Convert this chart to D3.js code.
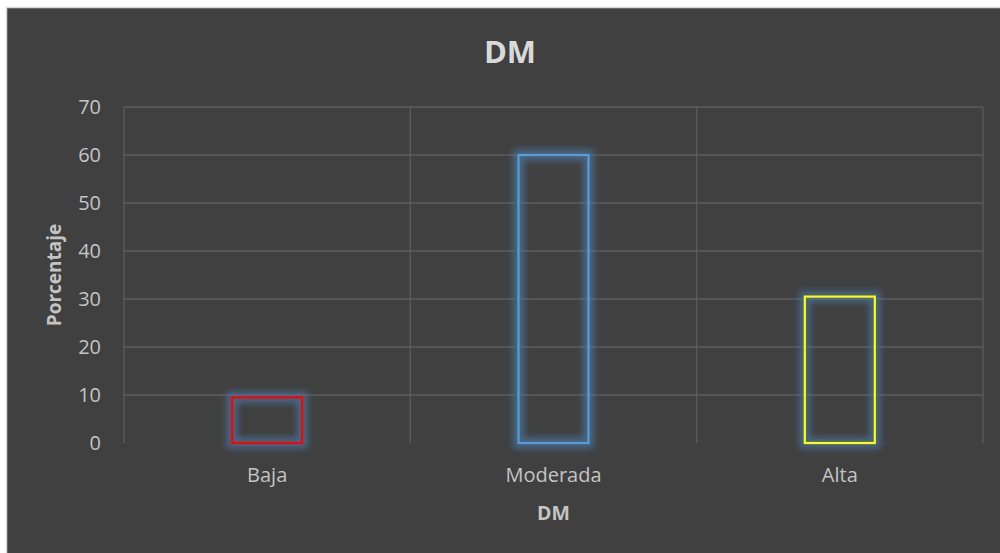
<!DOCTYPE html>
<html>
<head>
<meta charset="utf-8">
<script src="https://cdn.jsdelivr.net/npm/d3@7"></script>
<style>
  html, body { margin: 0; padding: 0; background: #ffffff; }
  svg { display: block; font-family: "Open Sans", "Noto Sans", sans-serif; }
</style>
</head>
<body>
<svg id="chart" width="1000" height="553"></svg>
<script>
// Category labels, percentages and outline colours
const categories = ["Baja", "Moderada", "Alta"];
const values = [9.5, 60, 30.5];
const barColors = ["#ff0000", "#5b9bd5", "#ffff00"];
const yTicks = [0, 10, 20, 30, 40, 50, 60, 70];

const svg = d3.select("#chart");
const W = 1000, H = 553;

// Chart background with a light frame
svg.append("rect")
  .attr("x", 6.5).attr("y", 7.5)
  .attr("width", W).attr("height", H)
  .attr("fill", "#404040")
  .attr("stroke", "#d9d9d9").attr("stroke-width", 1.5);

const plot = { left: 124, right: 983, top: 107, bottom: 443 };

const x = d3.scaleBand()
  .domain(categories)
  .range([plot.left, plot.right])
  .paddingInner(0).paddingOuter(0);

const y = d3.scaleLinear()
  .domain([0, 70])
  .range([plot.bottom, plot.top]);

// Soft blue glow behind each outline
const defs = svg.append("defs");
const glow = defs.append("filter").attr("id", "glow")
  .attr("x", "-50%").attr("y", "-50%").attr("width", "200%").attr("height", "200%");
glow.append("feGaussianBlur").attr("stdDeviation", 3.2);

// Horizontal gridlines
svg.append("g").selectAll("line")
  .data(yTicks.filter(d => d > 0))
  .join("line")
  .attr("x1", plot.left).attr("x2", plot.right)
  .attr("y1", d => y(d)).attr("y2", d => y(d))
  .attr("stroke", "#5c5c5c").attr("stroke-width", 1.3);

// Vertical gridlines at category boundaries
const bounds = categories.map(c => x(c)).concat([x(categories[categories.length - 1]) + x.bandwidth()]);
svg.append("g").selectAll("line")
  .data(bounds)
  .join("line")
  .attr("x1", d => d).attr("x2", d => d)
  .attr("y1", plot.top).attr("y2", plot.bottom)
  .attr("stroke", "#5c5c5c").attr("stroke-width", 1.3);

// Y axis
const yAxis = svg.append("g")
  .attr("transform", `translate(${plot.left},0)`)
  .call(d3.axisLeft(y).tickValues(yTicks).tickSize(0).tickPadding(23));
yAxis.select(".domain").remove();
yAxis.selectAll("text")
  .attr("fill", "#c4c4c4").attr("font-size", 20)
  .attr("font-family", "'Open Sans', sans-serif");

// X axis
const xAxis = svg.append("g")
  .attr("transform", `translate(0,${plot.bottom})`)
  .call(d3.axisBottom(x).tickSize(0).tickPadding(25));
xAxis.select(".domain").remove();
xAxis.selectAll("text")
  .attr("fill", "#c4c4c4").attr("font-size", 20)
  .attr("font-family", "'Open Sans', sans-serif");

const barW = 70;
const bars = svg.append("g");
const data = categories.map((c, i) => ({ c, v: values[i], col: barColors[i] }));

bars.selectAll("rect.glow")
  .data(data)
  .join("rect")
  .attr("class", "glow")
  .attr("x", d => x(d.c) + x.bandwidth() / 2 - barW / 2)
  .attr("y", d => y(d.v))
  .attr("width", barW)
  .attr("height", d => y(0) - y(d.v))
  .attr("fill", "none")
  .attr("stroke", "#4a76a3")
  .attr("stroke-opacity", 0.7)
  .attr("stroke-width", 11)
  .attr("filter", "url(#glow)");

bars.selectAll("rect.bar")
  .data(data)
  .join("rect")
  .attr("class", "bar")
  .attr("x", d => x(d.c) + x.bandwidth() / 2 - barW / 2)
  .attr("y", d => y(d.v))
  .attr("width", barW)
  .attr("height", d => y(0) - y(d.v))
  .attr("fill", "none")
  .attr("stroke", d => d.col)
  .attr("stroke-width", 2.2);

// Titles
svg.append("text")
  .attr("x", 510).attr("y", 63)
  .attr("text-anchor", "middle")
  .attr("fill", "#d9d9d9").attr("font-size", 31).attr("font-weight", "bold")
  .text("DM");

svg.append("text")
  .attr("x", (plot.left + plot.right) / 2).attr("y", 520)
  .attr("text-anchor", "middle")
  .attr("fill", "#c4c4c4").attr("font-size", 19.5).attr("font-weight", "bold")
  .text("DM");

svg.append("text")
  .attr("transform", `translate(61,275) rotate(-90)`)
  .attr("text-anchor", "middle")
  .attr("fill", "#c4c4c4").attr("font-size", 19).attr("font-weight", "bold")
  .text("Porcentaje");
</script>
</body>
</html>
